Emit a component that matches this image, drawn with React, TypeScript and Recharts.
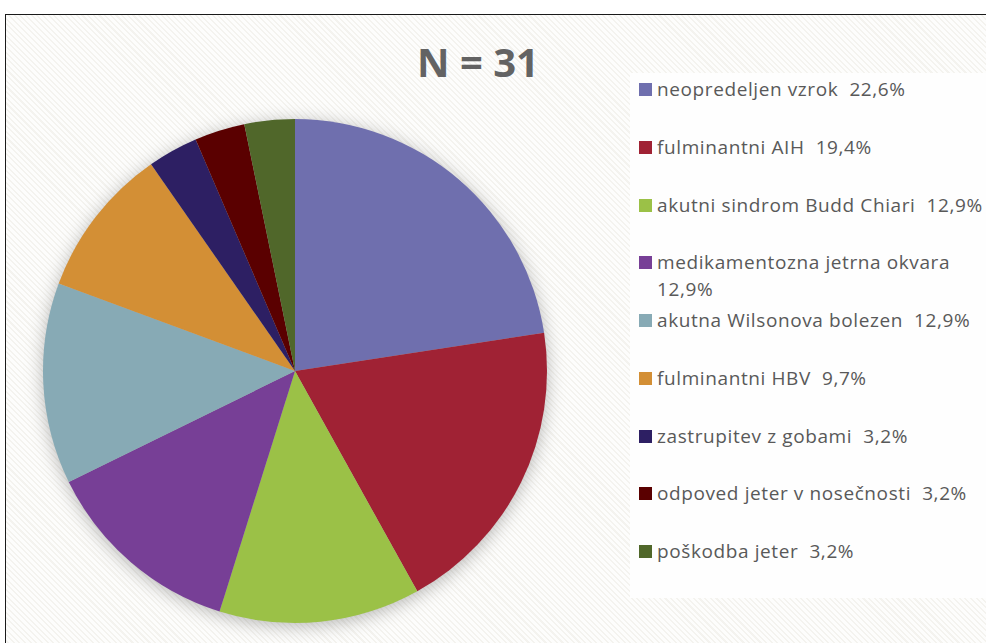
import { PieChart, Pie, Cell, Legend } from 'recharts';

const causes = [
  'neopredeljen vzrok',
  'fulminantni AIH',
  'akutni sindrom Budd Chiari',
  'medikamentozna jetrna okvara',
  'akutna Wilsonova bolezen',
  'fulminantni HBV',
  'zastrupitev z gobami',
  'odpoved jeter v nosečnosti',
  'poškodba jeter',
];
const patients = [7, 6, 4, 4, 4, 3, 1, 1, 1];
const shares = ['22,6%', '19,4%', '12,9%', '12,9%', '12,9%', '9,7%', '3,2%', '3,2%', '3,2%'];
const colors = ['#6F6FAE', '#A02234', '#9BC147', '#773F96', '#87AAB5', '#D38F35', '#2D1F63', '#5A0000', '#50672A'];

const data = causes.map((name, i) => ({ name, value: patients[i], share: shares[i] }));
const total = patients.reduce((a, b) => a + b, 0);

const LegendBox = () => (
  <div style={{ fontFamily: '"Open Sans", sans-serif', fontSize: 19, letterSpacing: 0.6, color: '#595959' }}>
    {data.map((d, i) => (
      <div key={d.name} style={{ height: 57.75, display: 'flex', alignItems: 'flex-start' }}>
        <div style={{ width: 13, height: 13, background: colors[i], marginLeft: 9, marginTop: 7, flexShrink: 0 }} />
        <div style={{ marginLeft: 5, width: 334, lineHeight: '27px', whiteSpace: 'pre-wrap' }}>
          {`${d.name}  ${d.share}`}
        </div>
      </div>
    ))}
  </div>
);

export default function App() {
  return (
    <div style={{ position: 'absolute', left: 0, top: 0, width: 986, height: 643, overflow: 'hidden', background: '#fff' }}>
      <div
        style={{
          position: 'absolute',
          left: 5,
          top: 14,
          width: 1020,
          height: 700,
          border: '1.5px solid #1a1a1a',
          background: 'repeating-linear-gradient(45deg, #f4f3ef 0px, #f4f3ef 1.5px, #fdfdfc 1.5px, #fdfdfc 4px)',
        }}
      />
      <div
        style={{
          position: 'absolute',
          left: 0,
          top: 34,
          width: 956,
          textAlign: 'center',
          fontFamily: '"Open Sans", sans-serif',
          fontWeight: 700,
          fontSize: 40,
          color: '#636363',
          lineHeight: '56px',
        }}
      >
        N = {total}
      </div>
      <div style={{ position: 'absolute', left: 0, top: 0 }}>
        <PieChart width={986} height={643} margin={{ top: 0, right: 0, bottom: 0, left: 0 }}>
          <defs>
            <filter id="pieGlow" x="-20%" y="-20%" width="140%" height="140%">
              <feGaussianBlur in="SourceAlpha" stdDeviation="9" />
              <feOffset dx="0" dy="3" result="blur" />
              <feFlood floodColor="#000" floodOpacity="0.28" />
              <feComposite in2="blur" operator="in" />
            </filter>
          </defs>
          <Pie
            data={[{ name: 'all', value: total }]}
            dataKey="value"
            cx={295}
            cy={371}
            outerRadius={252}
            startAngle={90}
            endAngle={-270}
            stroke="none"
            fill="#888"
            style={{ filter: 'url(#pieGlow)' }}
            isAnimationActive={false}
            legendType="none"
          />
          <Pie
            data={data}
            dataKey="value"
            nameKey="name"
            cx={295}
            cy={371}
            outerRadius={252}
            startAngle={90}
            endAngle={-270}
            stroke="none"
            isAnimationActive={false}
          >
            {data.map((d, i) => (
              <Cell key={d.name} fill={colors[i]} />
            ))}
          </Pie>
          <Legend
            content={<LegendBox />}
            layout="vertical"
            align="right"
            verticalAlign="top"
            wrapperStyle={{ left: 630, top: 73, width: 356, height: 522, background: '#fefefe', paddingTop: 3 }}
          />
        </PieChart>
      </div>
    </div>
  );
}
